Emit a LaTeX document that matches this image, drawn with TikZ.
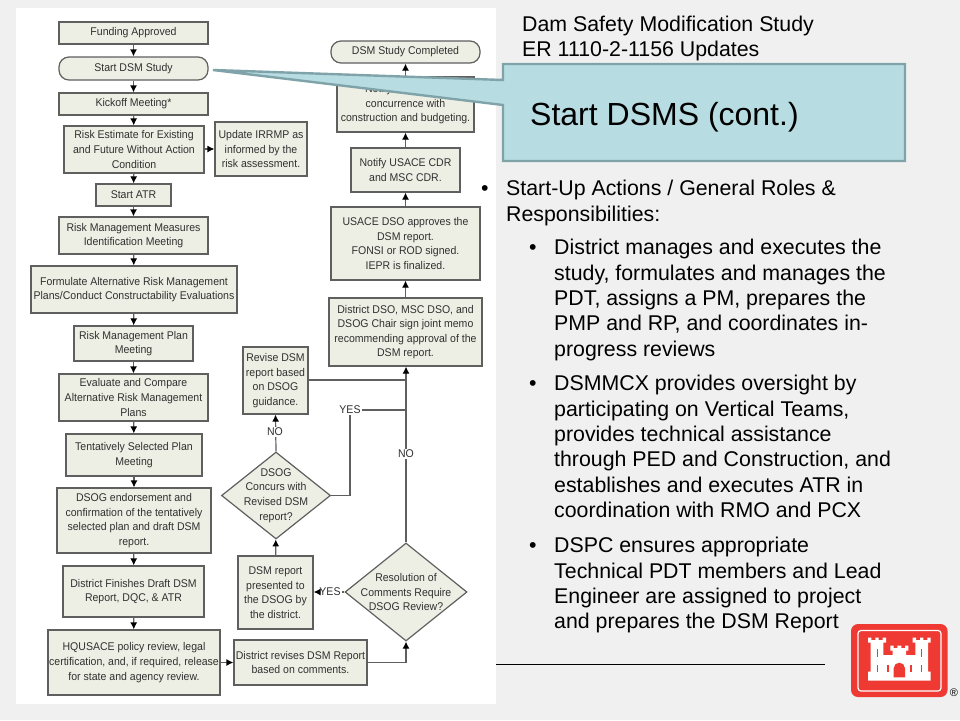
\documentclass[tikz,border=0pt]{standalone}
\usepackage{fontspec}
\setmainfont{Liberation Sans}
\newfontfamily\flowfam[FakeStretch=0.94]{Liberation Sans}
\usetikzlibrary{arrows.meta,shapes.geometric}
\definecolor{pagebg}{HTML}{F0F0F0}
\definecolor{boxfill}{HTML}{EEEFE4}
\definecolor{boxline}{HTML}{5F5F5F}
\definecolor{flowtext}{HTML}{303030}
\definecolor{callfill}{HTML}{B7DDE2}
\definecolor{callline}{HTML}{7FA3A8}
\definecolor{logored}{HTML}{EE3A33}
\newcommand{\flowfont}{\flowfam\fontsize{11.2}{14.6}\selectfont}
\newcommand{\bodyfont}{\fontsize{21.33}{25.4}\selectfont}
\tikzset{
 x=1pt,y=-1pt,
 flowbox/.style={draw=boxline,fill=boxfill,line width=1.2pt,text=flowtext,font=\flowfont,align=center,inner sep=0pt},
 flowline/.style={draw=boxline,line width=1.2pt},
 flowarrow/.style={flowline,-{Latex[black,length=7pt,width=7pt]}},
 flowlabel/.style={font=\flowfont,text=flowtext,fill=white,inner sep=1pt},
 difftext/.style={font=\flowfont,text=flowtext,align=center,inner sep=0pt},
 bodytext/.style={font=\bodyfont,align=left,anchor=north west,inner sep=0pt,text=black},
}
\newcommand{\bx}[6]{\node[flowbox,minimum width=#4pt-#2pt,minimum height=#5pt-#3pt] (#1) at ({(#2+#4)/2},{(#3+#5)/2}) {#6};}
\newcommand{\rbx}[6]{\node[flowbox,rounded corners=10pt,minimum width=#4pt-#2pt,minimum height=#5pt-#3pt] (#1) at ({(#2+#4)/2},{(#3+#5)/2}) {#6};}
\begin{document}
\begin{tikzpicture}
\useasboundingbox (0,0) rectangle (960,720);
\fill[pagebg] (0,0) rectangle (960,720);
\fill[white] (16,8) rectangle (496,704);
% left column
\bx{fund}{59}{22}{208}{44}{Funding Approved}
\rbx{start}{59}{57}{208}{80}{Start DSM Study}
\bx{kick}{59}{93}{208}{115}{Kickoff Meeting*}
\bx{risk}{64}{126}{204}{173}{Risk Estimate for Existing\\and Future Without Action\\Condition}
\bx{irrmp}{215}{122}{307}{176}{Update IRRMP as\\informed by the\\risk assessment.}
\bx{atr}{96}{184}{171}{206}{Start  ATR}
\bx{meas}{59}{217}{208}{254}{Risk Management Measures\\Identification Meeting}
\bx{form}{31}{266}{237}{313}{Formulate Alternative Risk Management\\Plans/Conduct Constructability Evaluations}
\bx{rmp}{74}{326}{193}{361}{Risk Management Plan\\Meeting}
\bx{eval}{59}{374}{208}{421}{Evaluate and Compare\\Alternative Risk Management\\Plans}
\bx{tent}{66}{434}{202}{476}{Tentatively Selected Plan\\Meeting}
\bx{endo}{57}{488}{211}{553}{DSOG endorsement and\\confirmation of the tentatively\\selected plan and draft DSM\\report.}
\bx{finish}{63}{566}{204}{617}{District Finishes Draft DSM\\Report,  DQC, \& ATR}
\bx{hq}{48}{630}{220}{695}{HQUSACE policy review, legal\\certification, and, if required, release\\for state and agency review.}
% right column
\rbx{done}{331}{41}{480}{63}{DSM Study Completed}
\bx{conc}{337}{77}{474}{132}{Notify\hspace*{54pt}\\concurrence with\\construction and budgeting.}
\bx{cdr}{351}{148}{460}{192}{Notify USACE CDR\\and MSC CDR.}
\bx{dso}{331}{207}{480}{280}{USACE DSO approves the\\DSM report.\\FONSI or ROD signed.\\IEPR is finalized.}
\bx{memo}{329}{298}{482}{366}{District DSO, MSC DSO, and\\DSOG Chair sign joint memo\\recommending  approval of the\\DSM report.}
\bx{rev}{243}{347}{308}{414}{Revise DSM\\report based\\on DSOG\\guidance.}
\bx{pres}{238}{556}{313}{629}{DSM report\\presented to\\the DSOG by\\the district.}
\bx{dr}{234}{640}{367}{685}{District revises DSM Report\\based on comments.}
\node[flowbox,diamond,aspect=1.253,minimum width=109pt,minimum height=87pt] (dq) at (276,495.5) {};
\node[difftext] (dqt) at (276,495.5) {DSOG\\Concurs with\\Revised DSM\\report?};
\node[flowbox,diamond,aspect=1.245,minimum width=122pt,minimum height=98pt] (rq) at (406,592) {};
\node[difftext] (rqt) at (406,592) {Resolution of\\Comments Require\\DSOG Review?};
% connectors
\foreach \a/\b in {fund/start,start/kick,kick/risk,risk/atr,atr/meas,meas/form,form/rmp,rmp/eval,eval/tent,tent/endo,endo/finish,finish/hq,cdr/conc,dso/cdr,memo/dso,pres/dq}
 \draw[flowarrow] (\a) -- (\b);
\draw[flowarrow] (conc.north -| done) -- (done);
\draw[flowarrow] (risk.east |- irrmp) -- (irrmp);
\draw[flowarrow] (hq.east |- dr) -- (dr);
\draw[flowarrow] (dr.east) -| (rq.south);
\draw[flowarrow] (rq.north) -- (memo.south -| rq.north);
\node[flowlabel] (lno) at (406,454) {NO};
\coordinate (joinA) at (406,380);
\draw[flowline] (rev.east |- joinA) -- (joinA);
\node[flowlabel,fill=none] (lyes) at (350,410) {YES};
\coordinate (joinB) at (406,410);
\draw[flowline] (lyes) -- (joinB);
\draw[flowline] (dq.east) -| (lyes.south);
\draw[flowarrow] (dq.north) -- (rev.south);
\node[flowlabel] (lno2) at (275,432) {NO};
\node[flowlabel,fill=none] (lyes2) at (330,592) {YES};
\draw[flowline] (rq.west) -- (lyes2.east);
\draw[flowarrow] (lyes2.west) -- (pres.east |- lyes2);
% callout
\draw[callline,line width=2.4pt,fill=callfill,line join=miter] (503,64) -- (905,64) -- (905,161) -- (503,161) -- (503,105) -- (213,70) -- (503,80) -- cycle;
\node[font=\fontsize{32}{36}\selectfont,anchor=base west,inner sep=0pt] (calltxt) at (530,125) {Start DSMS (cont.)};
% right text
\node[bodytext,font=\fontsize{21.33}{25}\selectfont] (title) at (522,16) {Dam Safety Modification Study\\ER 1110-2-1156 Updates};
\node[bodytext,anchor=base west] (b0) at (481,195) {•};
\node[bodytext,anchor=north west] (t0) at (506,180) {Start-Up Actions / General Roles \&\\Responsibilities:};
\node[bodytext,anchor=base west] (b1) at (529,254) {•};
\node[bodytext] (t1) at (554,239) {District manages and executes the\\study, formulates and manages the\\PDT, assigns a PM, prepares the\\PMP and RP, and coordinates in-\\progress reviews};
\node[bodytext,anchor=base west] (b2) at (529,390) {•};
\node[bodytext] (t2) at (554,375) {DSMMCX provides oversight by\\participating on Vertical Teams,\\provides technical assistance\\through PED and Construction, and\\establishes and executes ATR in\\coordination with RMO and PCX};
\node[bodytext,anchor=base west] (b3) at (529,552) {•};
\node[bodytext] (t3) at (554,537) {DSPC ensures appropriate\\Technical PDT members and Lead\\Engineer are assigned to project\\and prepares the DSM Report};
\coordinate (ruleA) at (496,664);
\coordinate (ruleB) at (825,664);
\draw[black,line width=0.8pt] (ruleA) -- (ruleB);
% logo
\fill[logored,rounded corners=7pt] (851,624) rectangle (947.5,697);
\draw[white,line width=1.2pt,rounded corners=3pt] (858,630.5) rectangle (941,691);
\begin{scope}[shift={(800,600)},x=0.3333pt,y=-0.3333pt]
\fill[white] (204,242) -- (204,215) -- (212,215) -- (212,128) -- (204,128) -- (204,113) -- (214,113) -- (214,120) -- (226,120) -- (226,113) -- (236,113) -- (236,120) -- (248,120) -- (248,113) -- (258,113) -- (258,128) -- (250,128) -- (250,165) -- (278,165) -- (278,152) -- (271,152) -- (271,137) -- (281,137) -- (281,144) -- (292,144) -- (292,137) -- (304,137) -- (304,144) -- (315,144) -- (315,137) -- (325,137) -- (325,152) -- (318,152) -- (318,165) -- (346,165) -- (346,128) -- (338,128) -- (338,113) -- (348,113) -- (348,120) -- (360,120) -- (360,113) -- (370,113) -- (370,120) -- (382,120) -- (382,113) -- (392,113) -- (392,128) -- (384,128) -- (384,215) -- (392,215) -- (392,242) -- cycle;
\fill[logored] (281,232) -- (281,205) arc[start angle=180,end angle=360,radius=17] -- (315,232) -- cycle;
\foreach \wx/\wa/\wb in {232/148/172,364/148/172,232/195/217,264/195/215,332/195/215,364/195/217}
 \fill[logored] (\wx-2.5,\wa) rectangle (\wx+2.5,\wb);
\end{scope}
\node[font=\fontsize{11}{12}\selectfont,inner sep=0pt] (reg) at (954,693) {®};
\end{tikzpicture}
\end{document}
